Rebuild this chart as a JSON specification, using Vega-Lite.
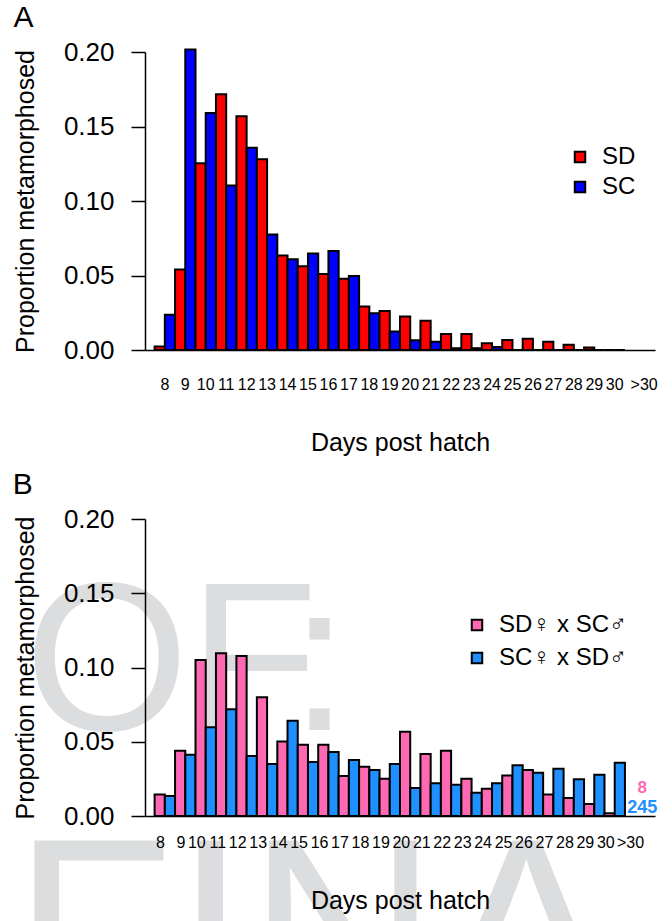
{
  "$schema": "https://vega.github.io/schema/vega-lite/v6.json",
  "background": "white",
  "padding": {"left": 12, "top": 3, "right": 5, "bottom": 2},
  "config": {
    "view": {"stroke": null},
    "font": "Liberation Sans",
    "axis": {
      "domainColor": "black", "tickColor": "black", "labelColor": "black", "titleColor": "black",
      "domainWidth": 1.5, "tickWidth": 1.5, "grid": false,
      "labelFont": "Liberation Sans", "titleFont": "Liberation Sans", "titleFontWeight": "normal"
    },
    "legend": {"labelFont": "Liberation Sans", "labelColor": "black"},
    "title": {"font": "Liberation Sans", "fontWeight": "normal", "color": "black"}
  },
  "resolve": {
    "scale": {"color": "independent", "xOffset": "independent"},
    "legend": {"color": "independent"}
  },
  "datasets": {
    "a": [
      {"day": "8", "group": "SD", "value": 0.0024}, {"day": "8", "group": "SC", "value": 0.0237},
      {"day": "9", "group": "SD", "value": 0.054}, {"day": "9", "group": "SC", "value": 0.2016},
      {"day": "10", "group": "SD", "value": 0.1254}, {"day": "10", "group": "SC", "value": 0.159},
      {"day": "11", "group": "SD", "value": 0.1716}, {"day": "11", "group": "SC", "value": 0.1104},
      {"day": "12", "group": "SD", "value": 0.1568}, {"day": "12", "group": "SC", "value": 0.1357},
      {"day": "13", "group": "SD", "value": 0.128}, {"day": "13", "group": "SC", "value": 0.0776},
      {"day": "14", "group": "SD", "value": 0.0634}, {"day": "14", "group": "SC", "value": 0.0609},
      {"day": "15", "group": "SD", "value": 0.0562}, {"day": "15", "group": "SC", "value": 0.0648},
      {"day": "16", "group": "SD", "value": 0.051}, {"day": "16", "group": "SC", "value": 0.0665},
      {"day": "17", "group": "SD", "value": 0.0479}, {"day": "17", "group": "SC", "value": 0.0497},
      {"day": "18", "group": "SD", "value": 0.0292}, {"day": "18", "group": "SC", "value": 0.0246},
      {"day": "19", "group": "SD", "value": 0.0261}, {"day": "19", "group": "SC", "value": 0.0124},
      {"day": "20", "group": "SD", "value": 0.0224}, {"day": "20", "group": "SC", "value": 0.0065},
      {"day": "21", "group": "SD", "value": 0.0197}, {"day": "21", "group": "SC", "value": 0.0056},
      {"day": "22", "group": "SD", "value": 0.0108}, {"day": "22", "group": "SC", "value": 0.0012},
      {"day": "23", "group": "SD", "value": 0.0108}, {"day": "23", "group": "SC", "value": 0.0012},
      {"day": "24", "group": "SD", "value": 0.0045}, {"day": "24", "group": "SC", "value": 0.002},
      {"day": "25", "group": "SD", "value": 0.0067}, {"day": "25", "group": "SC", "value": 0},
      {"day": "26", "group": "SD", "value": 0.0076}, {"day": "26", "group": "SC", "value": 0},
      {"day": "27", "group": "SD", "value": 0.0056}, {"day": "27", "group": "SC", "value": 0},
      {"day": "28", "group": "SD", "value": 0.0036}, {"day": "28", "group": "SC", "value": 0},
      {"day": "29", "group": "SD", "value": 0.0017}, {"day": "29", "group": "SC", "value": 0},
      {"day": "30", "group": "SD", "value": 0}, {"day": "30", "group": "SC", "value": 0}
    ],
    "b": [
      {"day": "8", "group": "SD♀ x SC♂", "value": 0.0144}, {"day": "8", "group": "SC♀ x SD♂", "value": 0.0135},
      {"day": "9", "group": "SD♀ x SC♂", "value": 0.044}, {"day": "9", "group": "SC♀ x SD♂", "value": 0.0412},
      {"day": "10", "group": "SD♀ x SC♂", "value": 0.105}, {"day": "10", "group": "SC♀ x SD♂", "value": 0.0598},
      {"day": "11", "group": "SD♀ x SC♂", "value": 0.1096}, {"day": "11", "group": "SC♀ x SD♂", "value": 0.0719},
      {"day": "12", "group": "SD♀ x SC♂", "value": 0.1078}, {"day": "12", "group": "SC♀ x SD♂", "value": 0.0404},
      {"day": "13", "group": "SD♀ x SC♂", "value": 0.080}, {"day": "13", "group": "SC♀ x SD♂", "value": 0.035},
      {"day": "14", "group": "SD♀ x SC♂", "value": 0.0502}, {"day": "14", "group": "SC♀ x SD♂", "value": 0.0642},
      {"day": "15", "group": "SD♀ x SC♂", "value": 0.048}, {"day": "15", "group": "SC♀ x SD♂", "value": 0.0364},
      {"day": "16", "group": "SD♀ x SC♂", "value": 0.048}, {"day": "16", "group": "SC♀ x SD♂", "value": 0.0431},
      {"day": "17", "group": "SD♀ x SC♂", "value": 0.027}, {"day": "17", "group": "SC♀ x SD♂", "value": 0.0377},
      {"day": "18", "group": "SD♀ x SC♂", "value": 0.0332}, {"day": "18", "group": "SC♀ x SD♂", "value": 0.031},
      {"day": "19", "group": "SD♀ x SC♂", "value": 0.0251}, {"day": "19", "group": "SC♀ x SD♂", "value": 0.035},
      {"day": "20", "group": "SD♀ x SC♂", "value": 0.0568}, {"day": "20", "group": "SC♀ x SD♂", "value": 0.0189},
      {"day": "21", "group": "SD♀ x SC♂", "value": 0.0418}, {"day": "21", "group": "SC♀ x SD♂", "value": 0.022},
      {"day": "22", "group": "SD♀ x SC♂", "value": 0.044}, {"day": "22", "group": "SC♀ x SD♂", "value": 0.0211},
      {"day": "23", "group": "SD♀ x SC♂", "value": 0.0251}, {"day": "23", "group": "SC♀ x SD♂", "value": 0.0157},
      {"day": "24", "group": "SD♀ x SC♂", "value": 0.0184}, {"day": "24", "group": "SC♀ x SD♂", "value": 0.022},
      {"day": "25", "group": "SD♀ x SC♂", "value": 0.0272}, {"day": "25", "group": "SC♀ x SD♂", "value": 0.0342},
      {"day": "26", "group": "SD♀ x SC♂", "value": 0.031}, {"day": "26", "group": "SC♀ x SD♂", "value": 0.0292},
      {"day": "27", "group": "SD♀ x SC♂", "value": 0.0144}, {"day": "27", "group": "SC♀ x SD♂", "value": 0.0319},
      {"day": "28", "group": "SD♀ x SC♂", "value": 0.0121}, {"day": "28", "group": "SC♀ x SD♂", "value": 0.0247},
      {"day": "29", "group": "SD♀ x SC♂", "value": 0.0081}, {"day": "29", "group": "SC♀ x SD♂", "value": 0.0278},
      {"day": "30", "group": "SD♀ x SC♂", "value": 0.0018}, {"day": "30", "group": "SC♀ x SD♂", "value": 0.0359}
    ]
  },
  "spacing": 15,
  "vconcat": [
    {
      "title": {"text": "A", "anchor": "start", "frame": "bounds", "fontSize": 30, "offset": 6},
      "width": 510,
      "height": 298,
      "data": {"name": "a"},
      "mark": {"type": "bar", "stroke": "black", "strokeWidth": 2},
      "encoding": {
        "x": {
          "field": "day", "type": "nominal",
          "scale": {"domain": ["8","9","10","11","12","13","14","15","16","17","18","19","20","21","22","23","24","25","26","27","28","29","30",">30"], "paddingInner": 0, "paddingOuter": 0.47},
          "axis": {"zindex": 1, "labelAngle": 0, "ticks": false, "labelPadding": 26, "labelFontSize": 16, "labelOverlap": false, "labelOffset": {"condition": {"test": "datum.value === '>30'", "value": 9}, "value": 0}, "title": "Days post hatch", "titleFontSize": 25, "titlePadding": 38}
        },
        "xOffset": {"field": "group", "type": "nominal", "scale": {"domain": ["SD", "SC"], "paddingInner": 0, "paddingOuter": 0}},
        "y": {
          "field": "value", "type": "quantitative",
          "scale": {"domain": [0, 0.2], "nice": false},
          "axis": {"zindex": 1, "values": [0, 0.05, 0.1, 0.15, 0.2], "format": ".2f", "tickSize": 14, "labelPadding": 17, "labelFontSize": 26, "title": "Proportion metamorphosed", "titleFontSize": 25, "titlePadding": 25}
        },
        "color": {
          "field": "group", "type": "nominal",
          "scale": {"domain": ["SD", "SC"], "range": ["#FF0000", "#0000FF"]},
          "legend": {"title": null, "orient": "none", "legendX": 423, "legendY": 93, "symbolType": "square", "symbolSize": 110, "symbolStrokeColor": "black", "symbolStrokeWidth": 2, "labelFontSize": 24, "labelOffset": 10, "rowPadding": 6}
        }
      }
    },
    {
      "title": {"text": "B", "anchor": "start", "frame": "bounds", "fontSize": 30, "offset": 6},
      "width": 510,
      "height": 297,
      "layer": [
        {
          "data": {"values": [{"day": "17", "label": "OF"}]},
          "mark": {"type": "text", "color": "#DCDDDE", "fontSize": 211, "align": "right", "baseline": "alphabetic", "dx": -31},
          "encoding": {
            "x": {"field": "day", "type": "nominal"},
            "y": {"datum": 0.0579},
            "text": {"field": "label"}
          }
        },
        {
          "data": {"values": [{"day": "17", "label": ":"}]},
          "mark": {"type": "text", "color": "#DCDDDE", "fontSize": 211, "align": "right", "baseline": "alphabetic", "dx": 0},
          "encoding": {
            "x": {"field": "day", "type": "nominal"},
            "y": {"datum": 0.0579},
            "text": {"field": "label"}
          }
        },
        {
          "data": {"values": [{"day": "16", "label": "FINA"}]},
          "mark": {"type": "text", "color": "#DCDDDE", "fontSize": 264, "align": "center", "baseline": "alphabetic", "dx": -15},
          "encoding": {
            "x": {"field": "day", "type": "nominal"},
            "y": {"datum": -0.1388},
            "text": {"field": "label"}
          }
        },
        {
          "data": {"name": "b"},
          "mark": {"type": "bar", "stroke": "black", "strokeWidth": 2},
          "encoding": {
            "x": {
              "field": "day", "type": "nominal",
              "scale": {"domain": ["8","9","10","11","12","13","14","15","16","17","18","19","20","21","22","23","24","25","26","27","28","29","30",">30"], "paddingInner": 0, "paddingOuter": 0.47},
              "axis": {"zindex": 1, "labelAngle": 0, "ticks": false, "labelPadding": 26, "labelFontSize": 16, "labelOverlap": false, "labelOffset": {"condition": {"test": "datum.value === '>30'", "value": 9}, "value": 0}, "title": "Days post hatch", "titleFontSize": 25, "titlePadding": 38}
            },
            "xOffset": {"field": "group", "type": "nominal", "scale": {"domain": ["SD♀ x SC♂", "SC♀ x SD♂"], "paddingInner": 0, "paddingOuter": 0}},
            "y": {
              "field": "value", "type": "quantitative",
              "scale": {"domain": [0, 0.2], "nice": false},
              "axis": {"zindex": 1, "values": [0, 0.05, 0.1, 0.15, 0.2], "format": ".2f", "tickSize": 14, "labelPadding": 17, "labelFontSize": 26, "title": "Proportion metamorphosed", "titleFontSize": 25, "titlePadding": 25}
            },
            "color": {
              "field": "group", "type": "nominal",
              "scale": {"domain": ["SD♀ x SC♂", "SC♀ x SD♂"], "range": ["#FF69B4", "#1E90FF"]},
              "legend": {"title": null, "orient": "none", "legendX": 320, "legendY": 94, "symbolType": "square", "symbolSize": 110, "symbolStrokeColor": "black", "symbolStrokeWidth": 2, "labelFontSize": 24, "labelOffset": 10, "rowPadding": 9}
            }
          }
        },
        {
          "data": {"values": [{"day": ">30", "label": "8"}]},
          "mark": {"type": "text", "color": "#FF69B4", "fontWeight": "bold", "fontSize": 17, "align": "center", "baseline": "alphabetic", "dx": 7, "dy": -23},
          "encoding": {
            "x": {"field": "day", "type": "nominal"},
            "y": {"datum": 0},
            "text": {"field": "label"}
          }
        },
        {
          "data": {"values": [{"day": ">30", "label": "245"}]},
          "mark": {"type": "text", "color": "#1E90FF", "fontWeight": "bold", "fontSize": 18, "align": "center", "baseline": "alphabetic", "dx": 7, "dy": -3},
          "encoding": {
            "x": {"field": "day", "type": "nominal"},
            "y": {"datum": 0},
            "text": {"field": "label"}
          }
        }
      ]
    }
  ]
}
